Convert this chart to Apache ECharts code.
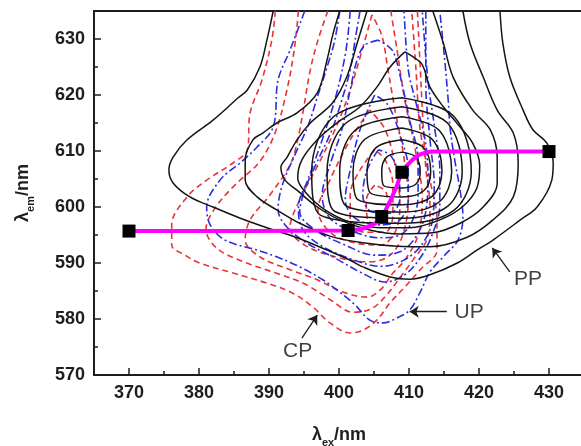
<!DOCTYPE html>
<html><head><meta charset="utf-8">
<script src="https://cdn.jsdelivr.net/npm/echarts@6/dist/echarts.min.js"></script>
<style>html,body{margin:0;padding:0;background:#fff}#c{width:581px;height:446px}</style>
</head><body><div id="c"></div>
<script>
// ---- data (λex, λem in nm) ----
const xTicks = [370,380,390,400,410,420,430];
const yTicks = [570,580,590,600,610,620,630];

// PP contours (black solid)
const PP_1 = [[390.6,635],[389.7,629.8],[388.7,625],[386.9,620.9],[385.6,619.5],[382,615.5],[378.3,612],[376.3,608.9],[375.7,606.6],[376.3,604.3],[378.7,601.8],[382,600],[385.9,598],[389.7,596.3],[394,594.5],[398.3,592.3],[401.6,590.5],[403.4,589.3],[407.3,587.5],[410.1,587.1],[413,587.9],[416.9,590],[419.7,592.3],[422,594.1],[425.9,597.7],[428.3,600],[430.4,604.8],[430.6,607.9],[429.7,611.4],[427.7,613.8],[426.3,617.3],[424.4,623.2],[423.4,629.3],[423,635]];
const PP_2 = [[400.1,635],[399.1,630.7],[398.3,626.3],[396.9,620.4],[394,616.8],[391.1,615],[389.1,613.2],[387.7,612],[386.6,608.4],[386.6,604.8],[388.3,601.8],[391.1,599.5],[394.4,597.1],[398.7,594.8],[403.4,593.6],[408.3,593],[413,592.9],[418.3,594.6],[422,597.7],[424.9,601.8],[425.6,607.9],[424.9,613.2],[422.6,617.3],[420.6,623.2],[418.7,629.3],[417.7,635]];
const PP_3 = [[404,635],[402.6,629.3],[401.1,623.2],[399.1,618.6],[395.9,615],[394,612],[392.6,608.9],[391.7,607.1],[392.3,604.8],[394,603],[396.9,600],[400.1,597.7],[404.4,595.9],[408.7,595.2],[413.4,595.4],[417.3,597.1],[420.6,600],[422.6,604.3],[422.6,608.9],[421.6,613.8],[419.1,617.3],[416.3,623.2],[414.9,629.3],[413.4,635]];
const PP_4 = [[409.4,627.7],[410.6,626.8],[411.9,625.4],[413,621.4],[414.9,617.9],[417.3,614.3],[419.1,611.4],[420.1,607.5],[419.7,603.4],[417.6,600],[414.4,597.7],[410.1,596.3],[405.9,596.3],[401.6,597.3],[398,599.5],[395.3,602.5],[394.1,605.2],[394.7,608.4],[396.9,612],[399.7,615],[403,617.9],[405.4,621.4],[407.3,625],[409.4,627.7]];
const PP_5 = [[409,619.5],[416.4,616.2],[418.9,606.3],[416.4,599.4],[409,597.1],[397.4,598.5],[396.1,606.3],[399.3,616.2],[409,619.5]];
const PP_6 = [[409,617.9],[415.5,615.0],[417.6,606.3],[415.5,600.1],[409,598.0],[399.4,599.2],[398.3,606.3],[401.0,615.0],[409,617.9]];
const PP_7 = [[409,616.1],[414.3,613.7],[416.1,606.3],[414.3,600.9],[409,599.1],[401.0,600.2],[400.1,606.3],[402.3,613.7],[409,616.1]];
const PP_8 = [[409,614.1],[413.3,612.1],[414.7,606.3],[413.3,601.9],[409,600.4],[402.7,601.3],[402.0,606.3],[403.7,612.1],[409,614.1]];
const PP_9 = [[409,612.0],[412.1,610.6],[413.1,606.3],[412.1,602.9],[409,601.8],[404.5,602.5],[404.0,606.3],[405.3,610.6],[409,612.0]];
const PP_10 = [[409,609.8],[411.0,608.9],[411.6,606.3],[411.0,604.1],[409,603.4],[406.4,603.8],[406.1,606.3],[406.8,608.9],[409,609.8]];

// CP contours (red dashed)
const CP_1 = [[390.9,635],[390.4,629.8],[389,622.7],[387.3,616.8],[386.9,610.2],[384.9,607.9],[381.1,604.8],[378.3,601.8],[376.1,596.8],[376.1,593.2],[378,591.4],[380.1,590],[384.9,588.2],[389.7,586.4],[393.4,584.6],[396.3,582.1],[398.7,579.3],[401.6,577.5],[403.4,578],[405.4,579.8],[407.3,582.9],[409.4,585.7],[411.6,588.8],[414,592.3],[414,597.7],[413,604.8],[411.6,613.8],[411,624.5],[410.4,635]];
const CP_7 = [[394.2,635],[393.6,628],[392.4,620],[390.8,613],[388.6,608],[385.2,604],[382.4,600],[381,596],[382.6,592.6],[386.4,590.2],[391,588.2],[395.2,586.2],[398.8,583.4],[402,581.2],[404.6,581.8],[406.6,584],[408.6,587.2],[410.6,590.6],[412.6,594.4],[413,600],[412.4,607],[412,615],[411.6,625],[411.2,635]];
const CP_2 = [[398.4,635],[397,629.8],[395.9,624.5],[394.9,617.3],[394.1,612],[393,607.5],[390.1,602.1],[387.3,597.7],[386.6,594.1],[388.7,591.1],[393,588.8],[396.9,587],[400.6,584.8],[404,583.9],[405.9,585.2],[407.7,588.2],[409.4,590.5],[411.3,595],[411.9,601.3],[410.9,610.2],[409.4,619.1],[408.3,628],[407.4,635]];
const CP_3 = [[404.7,634.3],[403.3,628],[401.6,620.9],[399.7,614.6],[397,607.5],[394.4,601.3],[393,596.3],[395.1,593.2],[400.1,590.9],[404.4,590.2],[407.3,591.4],[409.1,595],[409.9,601.3],[409.1,610.2],[408,617.3],[407,624.5],[406.1,630.7],[404.7,634.3]];
const CP_4 = [[404.4,617.3],[401.6,612],[398.7,604.8],[397,599.5],[398.7,595.5],[402.3,593.6],[405.9,593.2],[408,595.5],[408.7,600.4],[408,607.5],[406.6,613.8],[404.4,617.3]];
const CP_5 = [[405.1,610.2],[403,606.6],[401.6,602.1],[401.6,597.7],[403.7,595.5],[406.6,595.5],[407.7,598.6],[407.7,603.9],[406.6,608.4],[405.1,610.2]];
const CP_6 = [[405.1,603.9],[403.9,601.3],[404.1,597.7],[405.9,597],[407,599.5],[406.7,602.7],[405.1,603.9]];

// UP contours (blue dash-dot)
const UP_1 = [[395.1,635],[393,628],[391.3,622.7],[390.6,614.3],[388.3,610.7],[385.9,607.9],[383,604.8],[381.1,600],[381.6,596.8],[383.7,594.1],[388.3,592.3],[391.1,591.1],[394.4,589.3],[397.7,587],[400.1,584.8],[402.3,582.5],[404.4,579.8],[406.3,579.3],[408.3,580.2],[410.1,581.6],[411.6,584.8],[413,588.4],[415.1,591.4],[417,594.1],[417.7,598.2],[417.3,603],[416.6,607.9],[415.9,613.8],[415.6,619.1],[415.1,626.3],[414.4,635]];
const UP_2 = [[400.1,635],[399.4,629.8],[398.4,625.4],[397,620],[395.6,614.6],[393.7,609.3],[391.9,603.9],[391.3,599.5],[392.3,596.8],[395.1,593.8],[399.4,590.9],[403,588.4],[406.6,586.6],[409.4,587.9],[411.6,590.9],[413.3,595],[414.4,600.4],[414.4,606.6],[413.7,613.8],[412.7,622.7],[411.9,635]];
const UP_7 = [[401.6,635],[401,628],[399.6,620],[397.6,612],[395.6,605],[394.2,600],[394.8,596],[397.6,593],[402,590.6],[406,589.4],[409.4,590.6],[412,593.6],[413.4,598],[413.6,604],[413,612],[412.4,622],[412.4,635]];
const UP_3 = [[403,635],[402.3,629.8],[401.6,624.5],[400.4,619.1],[399,613.8],[397,608.4],[395.1,603],[394.4,599.1],[396.6,595.9],[400.9,593.2],[405.1,591.4],[408.7,592],[410.9,594.5],[412.3,598.6],[412.7,604.8],[412.3,612],[410.9,619.1],[409.9,624.5],[409.3,635]];
const UP_4 = [[405.6,629.8],[403.7,628.9],[402.6,626.3],[401.6,620.9],[400.4,613.8],[398.7,607.5],[397.6,602.1],[398.7,598],[402.3,595.5],[405.9,594.5],[408.7,595],[410.4,597.3],[411.3,602.1],[411.3,608.4],[410.1,615.5],[408.7,623.6],[407.6,628],[405.6,629.8]];
const UP_5 = [[405.1,620],[403,613.8],[401.6,606.6],[400.9,601.3],[402.3,598],[405.9,596.8],[408.7,597.7],[409.9,601.3],[409.9,606.6],[408.7,612.9],[407,618.2],[405.1,620]];
const UP_6 = [[405.6,610.2],[404,606.6],[403.4,602.1],[404.7,599.1],[407.3,598.9],[408.7,601.6],[408.4,606.3],[407.3,609.3],[405.6,610.2]];

// peak-shift path (magenta) and peak markers
const pathEx = [370, 401.3, 403.6, 405.2, 406.1, 407.2, 408.2, 409, 410.3, 411.6, 413.5, 430];
const pathEm = [595.7, 595.8, 596.2, 597.1, 598.3, 600.8, 603.6, 606.2, 608.2, 609.4, 609.9, 609.9];
const peakEx = [370, 401.3, 406.1, 409, 430];
const peakEm = [595.7, 595.8, 598.3, 606.2, 609.9];

// annotations
const labelNames = ['PP', 'UP', 'CP'];
const labelPos = [[427, 587.1], [418.6, 581.3], [394.1, 574.3]];
const arrowFrom = [[424.4, 588.4], [415.4, 581.3], [394.7, 576.6]];
const arrowTo = [[421.9, 592.7], [410.1, 581.3], [396.9, 580.7]];

// ---- chart ----
const chart = echarts.init(document.getElementById('c'), null, {renderer: 'canvas'});
const FONT = '"Liberation Sans", Arial, sans-serif';
const K = '#1e1e1e';

function contour(data, kind) {
  const st = {
    PP: {color: '#151515', type: 'solid', width: 1.5, z: 4},
    CP: {color: '#e8333a', type: [6, 4], width: 1.6, z: 2},
    UP: {color: '#2a2ee0', type: [8, 3, 2, 3], width: 1.6, z: 3}
  }[kind];
  return {type: 'line', data: data, smooth: 0.35, symbol: 'none', silent: true, animation: false,
    z: st.z, lineStyle: {color: st.color, type: st.type, width: st.width}};
}

const series = [];
[CP_1, CP_7, CP_2, CP_3, CP_4, CP_5, CP_6].forEach(d => series.push(contour(d, 'CP')));
[UP_1, UP_2, UP_7, UP_3, UP_4, UP_5, UP_6].forEach(d => series.push(contour(d, 'UP')));
[PP_1, PP_2, PP_3, PP_4, PP_5, PP_6, PP_7, PP_8, PP_9, PP_10].forEach(d => series.push(contour(d, 'PP')));

series.push({type: 'line', data: pathEx.map((x, i) => [x, pathEm[i]]), smooth: 0.3, symbol: 'none',
  z: 6, animation: false, lineStyle: {color: '#ff00ff', width: 4}});
series.push({type: 'scatter', data: peakEx.map((x, i) => [x, peakEm[i]]), symbol: 'rect', symbolSize: 13,
  z: 7, animation: false, itemStyle: {color: '#000', opacity: 1}});
series.push({type: 'scatter', data: labelPos.map((p, i) => [p[0], p[1], labelNames[i]]), symbolSize: 2,
  z: 8, animation: false, silent: true, itemStyle: {color: 'rgba(0,0,0,0)'},
  label: {show: true, position: 'inside', formatter: p => p.value[2], fontFamily: FONT, fontSize: 21, color: '#111'},
  markLine: {silent: true, animation: false, symbol: ['none', 'arrow'], symbolSize: 9,
    lineStyle: {color: K, width: 1.3, type: 'solid'}, label: {show: false},
    data: arrowFrom.map((a, i) => [{coord: a}, {coord: arrowTo[i]}])}});

const tickLabel = {fontFamily: FONT, fontWeight: 'bold', fontSize: 18, color: K};
const rich = {
  a: {fontFamily: FONT, fontWeight: 'bold', fontSize: 18, color: K, lineHeight: 26, verticalAlign: 'middle'},
  s: {fontFamily: FONT, fontWeight: 'bold', fontSize: 11, color: K, lineHeight: 26, verticalAlign: 'bottom'}
};

chart.setOption({
  backgroundColor: '#fff',
  animation: false,
  grid: {left: 94, top: 11, width: 490, height: 364, outerBoundsMode: 'none', containLabel: false,
    show: true, borderColor: K, borderWidth: 2, backgroundColor: 'transparent'},
  xAxis: [
    {type: 'value', min: 365, max: 435, splitNumber: 7, position: 'bottom',
      axisLine: {show: true, lineStyle: {color: K, width: 2}},
      axisTick: {show: true, inside: true, length: 7, lineStyle: {color: K, width: 1.5}},
      axisLabel: {...tickLabel, margin: 9, showMinLabel: false, showMaxLabel: false,
        formatter: v => xTicks.includes(v) ? String(v) : ''},
      splitLine: {show: false},
      name: '{a|λ}{s|ex}{a|/nm}', nameLocation: 'middle', nameGap: 47, nameTextStyle: {rich: rich}},
    {type: 'value', min: 365, max: 435, interval: 5, position: 'bottom',
      axisLine: {show: false}, axisTick: {show: true, inside: true, length: 4, lineStyle: {color: K, width: 1.5}},
      axisLabel: {show: false}, splitLine: {show: false}}
  ],
  yAxis: [
    {type: 'value', min: 570, max: 635, interval: 10, position: 'left',
      axisLine: {show: true, lineStyle: {color: K, width: 2}},
      axisTick: {show: true, inside: true, length: 7, lineStyle: {color: K, width: 1.5}},
      axisLabel: {...tickLabel, margin: 9, showMaxLabel: false,
        formatter: v => yTicks.includes(v) ? String(v) : ''},
      splitLine: {show: false},
      name: '{a|λ}{s|em}{a|/nm}', nameLocation: 'middle', nameRotate: 90, nameGap: 58, nameTextStyle: {rich: rich}},
    {type: 'value', min: 570, max: 635, interval: 5, position: 'left',
      axisLine: {show: false}, axisTick: {show: true, inside: true, length: 4, lineStyle: {color: K, width: 1.5}},
      axisLabel: {show: false}, splitLine: {show: false}}
  ],
  series: series
});
</script></body></html>
